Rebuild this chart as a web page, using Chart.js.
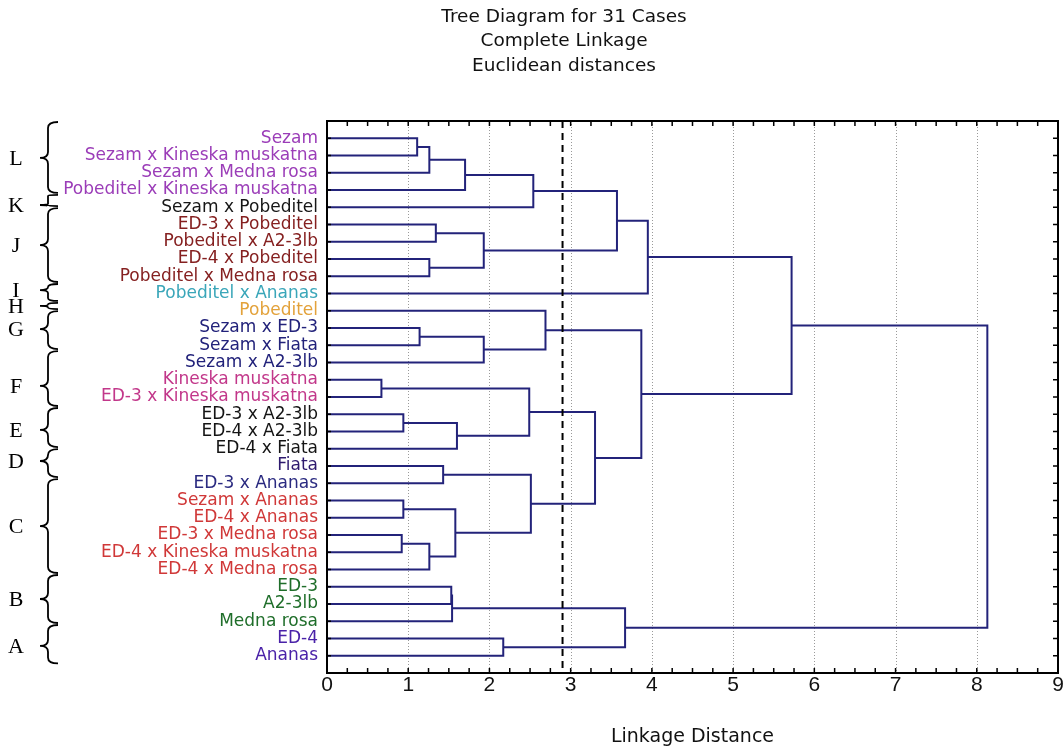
<!DOCTYPE html>
<html>
<head>
<meta charset="utf-8">
<script src="https://cdn.jsdelivr.net/npm/chart.js@4.4.1/dist/chart.umd.min.js"></script>
<style>
html,body{margin:0;padding:0;background:#fff;}
#wrap{width:1064px;height:750px;position:relative;}
</style>
</head>
<body>
<div id="wrap"><canvas id="c" width="1064" height="750"></canvas></div>
<script>
// ---------- data ----------
const titleLines = ['Tree Diagram for 31 Cases', 'Complete Linkage', 'Euclidean distances'];
const xAxisTitle = 'Linkage Distance';
const xTickValues = [0, 1, 2, 3, 4, 5, 6, 7, 8, 9];

const leafNames = [
  'Sezam', 'Sezam x Kineska muskatna', 'Sezam x Medna rosa', 'Pobeditel x Kineska muskatna',
  'Sezam x Pobeditel', 'ED-3 x Pobeditel', 'Pobeditel x A2-3lb', 'ED-4 x Pobeditel',
  'Pobeditel x Medna rosa', 'Pobeditel x Ananas', 'Pobeditel', 'Sezam x ED-3', 'Sezam x Fiata',
  'Sezam x A2-3lb', 'Kineska muskatna', 'ED-3 x Kineska muskatna', 'ED-3 x A2-3lb', 'ED-4 x A2-3lb',
  'ED-4 x Fiata', 'Fiata', 'ED-3 x Ananas', 'Sezam x Ananas', 'ED-4 x Ananas', 'ED-3 x Medna rosa',
  'ED-4 x Kineska muskatna', 'ED-4 x Medna rosa', 'ED-3', 'A2-3lb', 'Medna rosa', 'ED-4', 'Ananas'
];
const leafColors = [
  '#9b3db8', '#9b3db8', '#9b3db8', '#9b3db8',
  '#161616', '#852020', '#852020', '#852020', '#852020',
  '#3aa6b9', '#e3a23b', '#22227a', '#22227a', '#22227a',
  '#c2378a', '#c2378a', '#141414', '#141414', '#141414',
  '#2e1a6e', '#2a2a80', '#d03838', '#d03838', '#d03838', '#d03838', '#d03838',
  '#1f6e2a', '#1f6e2a', '#1f6e2a', '#4a22a8', '#4a22a8'
];

// merges: node ids 0..30 are leaves, merge k creates node 31+k
const mergeLeft   = [0, 31, 32, 33, 5, 7, 35, 34, 38, 11, 40, 10, 14, 16, 44, 43, 19, 21, 23, 49, 48, 47, 46, 42, 39, 26, 56, 29, 57, 55];
const mergeRight  = [1, 2, 3, 4, 6, 8, 36, 37, 9, 12, 13, 41, 15, 17, 18, 45, 20, 22, 24, 25, 50, 51, 52, 53, 54, 27, 28, 30, 58, 59];
const mergeHeight = [1.11, 1.26, 1.70, 2.54, 1.34, 1.26, 1.93, 3.57, 3.95, 1.14, 1.93, 2.69, 0.67, 0.94, 1.60, 2.49, 1.43, 0.94, 0.92, 1.26, 1.58, 2.51, 3.30, 3.87, 5.72, 1.53, 1.54, 2.17, 3.67, 8.13];

const cutDistance = 2.9;

// bracket groups (in leaf-row units)
const braceLetters = ['L', 'K', 'J', 'I', 'H', 'G', 'F', 'E', 'D', 'C', 'B', 'A'];
const braceEdges = [0.0, 4.23, 4.99, 9.39, 10.49, 10.96, 13.28, 16.58, 18.96, 20.7, 26.26, 29.16, 31.5];
const braceTips  = [2.14, 4.87, 7.19, 9.8, 10.72, 12.06, 15.36, 17.91, 19.71, 23.48, 27.71, 30.43];

// ---------- build dendrogram segments ----------
const nodeX = leafNames.map(() => 0);
const nodeY = leafNames.map((_, i) => i + 1);
const lineColor = '#23237a';
const datasets = [];
mergeHeight.forEach((h, k) => {
  const a = mergeLeft[k], b = mergeRight[k];
  datasets.push({
    data: [
      { x: nodeX[a], y: nodeY[a] },
      { x: h, y: nodeY[a] },
      { x: h, y: nodeY[b] },
      { x: nodeX[b], y: nodeY[b] }
    ],
    showLine: true, borderColor: lineColor, borderWidth: 2, pointRadius: 0,
    fill: false, tension: 0, order: 1
  });
  nodeX.push(h);
  nodeY.push((nodeY[a] + nodeY[b]) / 2);
});
datasets.push({
  data: [{ x: cutDistance, y: 0 }, { x: cutDistance, y: 32 }],
  showLine: true, borderColor: '#000', borderWidth: 2, borderDash: [7, 5],
  pointRadius: 0, fill: false, order: 0
});

// ---------- decorations plugin ----------
const deco = {
  id: 'deco',
  beforeDatasetsDraw(chart) {
    const { ctx, chartArea: a, scales: { x } } = chart;
    ctx.save();
    ctx.strokeStyle = '#9a9a9a';
    ctx.lineWidth = 1;
    ctx.setLineDash([1, 2]);
    xTickValues.forEach(v => {
      if (v <= x.min || v >= x.max) return;
      const px = Math.round(x.getPixelForValue(v)) + 0.5;
      ctx.beginPath(); ctx.moveTo(px, a.top); ctx.lineTo(px, a.bottom); ctx.stroke();
    });
    ctx.restore();
  },
  afterDraw(chart) {
    const { ctx, chartArea: a, scales: { x, y } } = chart;
    ctx.save();
    // frame
    ctx.strokeStyle = '#000';
    ctx.lineWidth = 2;
    ctx.strokeRect(a.left, a.top, a.right - a.left, a.bottom - a.top);
    // inward ticks
    ctx.lineWidth = 1.5;
    ctx.beginPath();
    for (let v = x.min + 0.25; v < x.max - 0.01; v += 0.25) {
      const px = x.getPixelForValue(v);
      ctx.moveTo(px, a.top); ctx.lineTo(px, a.top + 5);
      ctx.moveTo(px, a.bottom); ctx.lineTo(px, a.bottom - 5);
    }
    leafNames.forEach((_, i) => {
      const py = y.getPixelForValue(i + 1);
      ctx.moveTo(a.left, py); ctx.lineTo(a.left + 4, py);
      ctx.moveTo(a.right, py); ctx.lineTo(a.right - 5, py);
    });
    ctx.stroke();

    // title
    ctx.fillStyle = '#111';
    ctx.font = '18.5px "DejaVu Sans"';
    ctx.textAlign = 'center';
    ctx.textBaseline = 'middle';
    titleLines.forEach((t, i) => ctx.fillText(t, 564, 17 + i * 24.5));

    // braces
    ctx.strokeStyle = '#000';
    ctx.lineWidth = 1.8;
    ctx.font = '22px "Liberation Serif"';
    ctx.textAlign = 'center';
    ctx.textBaseline = 'alphabetic';
    const xm = 48, xt = 40, xe = 58;
    braceLetters.forEach((L, i) => {
      const yt = y.getPixelForValue(braceEdges[i]) + 1;
      const yb = y.getPixelForValue(braceEdges[i + 1]) - 1;
      const yc = y.getPixelForValue(braceTips[i]);
      const r = Math.max(1, Math.min(6, (yc - yt) / 2, (yb - yc) / 2));
      ctx.beginPath();
      ctx.moveTo(xe, yt);
      ctx.quadraticCurveTo(xm, yt, xm, yt + r);
      ctx.lineTo(xm, yc - r);
      ctx.quadraticCurveTo(xm, yc, xt, yc);
      ctx.quadraticCurveTo(xm, yc, xm, yc + r);
      ctx.lineTo(xm, yb - r);
      ctx.quadraticCurveTo(xm, yb, xe, yb);
      ctx.stroke();
      ctx.fillStyle = '#000';
      ctx.fillText(L, 16, yc + 7);
    });
    ctx.restore();
  }
};

new Chart(document.getElementById('c'), {
  type: 'scatter',
  data: { datasets },
  options: {
    responsive: false,
    animation: false,
    layout: { padding: { top: 121, right: 6, left: 0, bottom: 0 } },
    plugins: { legend: { display: false }, tooltip: { enabled: false }, title: { display: false } },
    scales: {
      x: {
        type: 'linear', position: 'bottom', min: 0, max: 9,
        afterBuildTicks: s => { s.ticks = xTickValues.map(v => ({ value: v })); },
        afterFit: s => { s.height = 77; },
        ticks: { color: '#111', font: { family: 'Liberation Sans', size: 21 }, padding: 0, maxRotation: 0 },
        grid: { display: false, drawTicks: false },
        border: { display: false },
        title: { display: true, text: xAxisTitle, color: '#111', font: { family: 'DejaVu Sans', size: 19 }, padding: { top: 0, bottom: 2 } }
      },
      y: {
        type: 'linear', position: 'left', min: 0, max: 32, reverse: true,
        afterBuildTicks: s => { s.ticks = leafNames.map((_, i) => ({ value: i + 1 })); },
        afterFit: s => { s.width = 327; },
        ticks: {
          autoSkip: false,
          padding: 9,
          font: { family: 'DejaVu Sans', size: 17 },
          color: ctx => leafColors[ctx.index],
          callback: v => leafNames[v - 1] ?? ''
        },
        grid: { display: false, drawTicks: false },
        border: { display: false }
      }
    }
  },
  plugins: [deco]
});
</script>
</body>
</html>
